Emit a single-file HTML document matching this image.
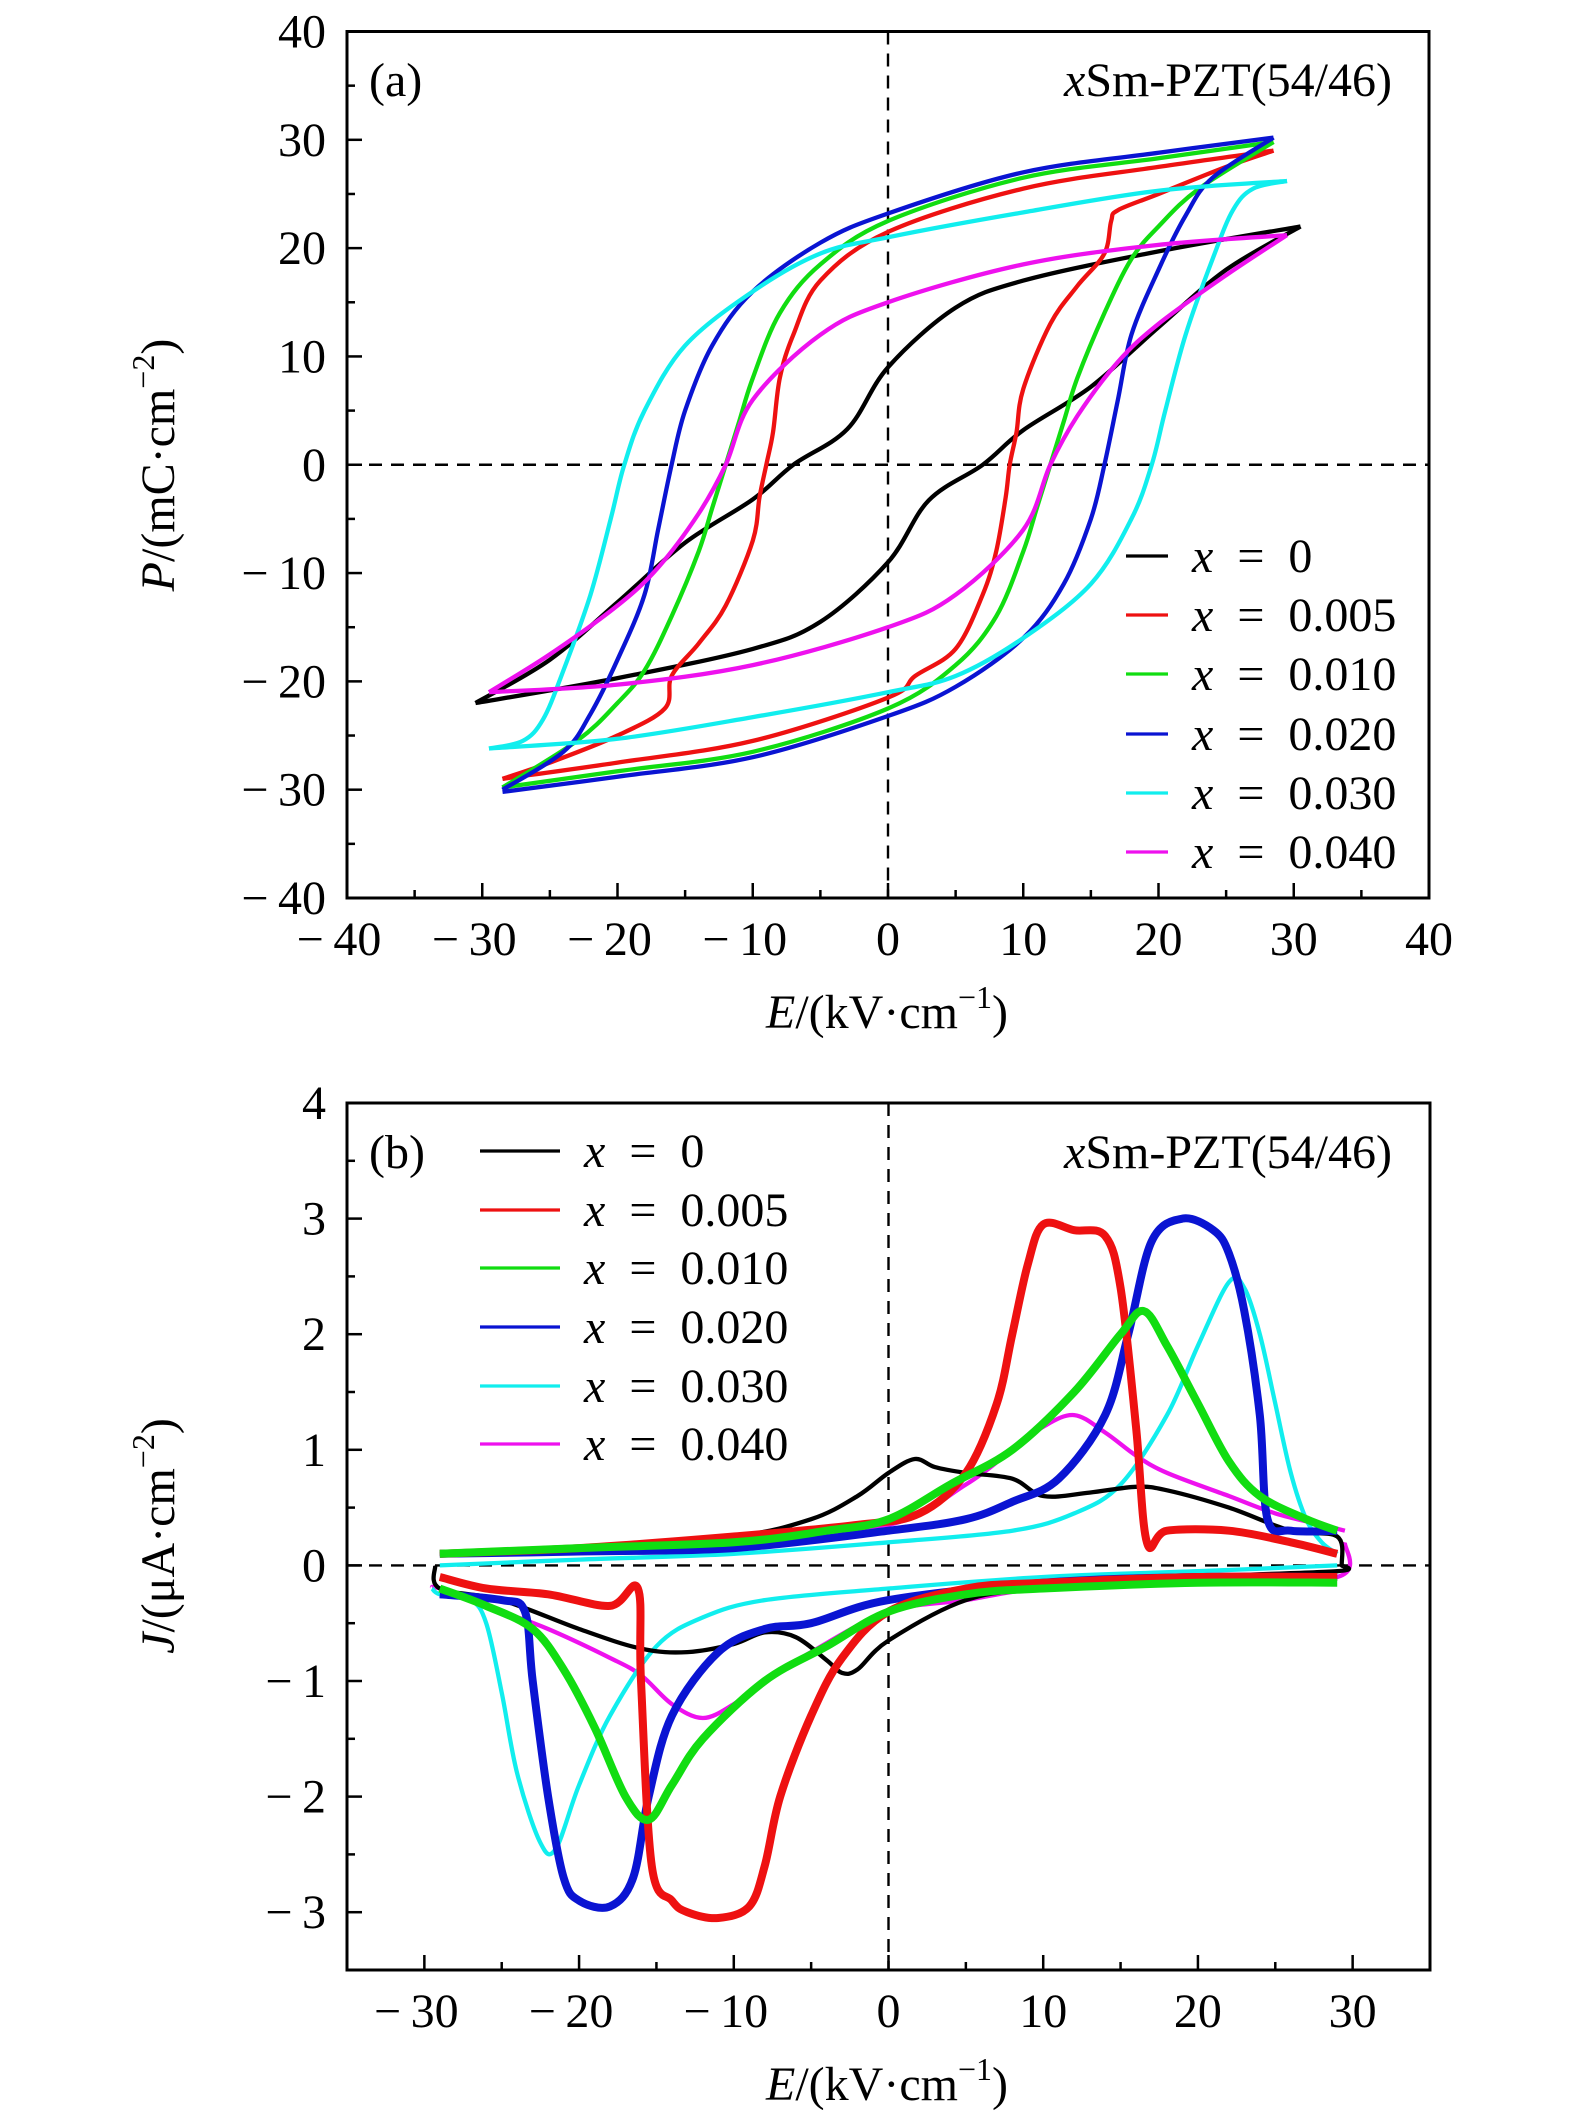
<!DOCTYPE html>
<html><head><meta charset="utf-8"><style>
html,body{margin:0;padding:0;background:#fff;}
svg{display:block;}
text{font-family:"Liberation Serif",serif;fill:#000;}
</style></head><body>
<svg id="fig" width="1575" height="2116" viewBox="0 0 1575 2116" xmlns="http://www.w3.org/2000/svg"></svg>
<script>
// ---------- Panel (a) data: P-E loops ----------
const seriesNames = ["x = 0","x = 0.005","x = 0.010","x = 0.020","x = 0.030","x = 0.040"];
const seriesColors = ["#000000","#ee1111","#11dd11","#0a14d2","#11eeee","#ee11ee"];
const aXTicks = [-40,-30,-20,-10,0,10,20,30,40];
const aYTicks = [-40,-30,-20,-10,0,10,20,30,40];
const eUp0 = [30.5,20,10,5,0,-3,-7,-10,-15,-20,-25,-30.5];
const pUp0 = [22,19.7,17,14.5,9,3.3,0,-3.2,-7.2,-12.7,-18,-22];
const eLo0 = [-30.5,-20,-10,-5,0,3,7,10,15,20,25,30.5];
const pLo0 = [-22,-19.7,-17,-14.5,-9,-3.3,0,3.2,7.2,12.7,18,22];
const eUp1 = [28.5,20,10,0,-5,-7,-8,-8.5,-9,-9.5,-10,-12,-14,-16,-16.5,-20,-25,-28.5];
const pUp1 = [29,27.5,25.5,21.5,17,12,8,3,0,-3,-7,-13,-16.5,-19.5,-22.5,-25,-27.5,-29];
const eLo1 = [-28.5,-20,-10,0,2,5,7,8,8.7,9,9.5,10,12,14,16,16.5,17,20,25,28.5];
const pLo1 = [-29,-27.5,-25.5,-21.5,-19.5,-17,-12,-8,-3,0,3,7,13,16.5,19.5,22.5,23.5,25,27.5,29];
const eUp2 = [28.5,20,10,0,-5,-8,-10,-11,-12,-13,-14,-16,-18,-20,-23,-28.5];
const pUp2 = [29.8,28.3,26.5,22.5,18.5,14,8,4,0,-4,-8,-14,-19,-22,-25.5,-29.8];
const eLo2 = [-28.5,-20,-10,0,5,8,10,11,12,13,14,16,18,20,23,28.5];
const pLo2 = [-29.8,-28.3,-26.5,-22.5,-18.5,-14,-8,-4,0,4,8,14,19,22,25.5,29.8];
const eUp3 = [28.5,20,10,0,-5,-10,-13,-15,-16,-17,-18,-20,-22,-24,-28.5];
const pUp3 = [30.2,28.8,27,23.2,20.5,16,11,5,0,-6,-12,-18,-23,-26.5,-30];
const eLo3 = [-28.5,-20,-10,0,5,10,13,15,16,17,18,20,22,24,28.5];
const pLo3 = [-30.2,-28.8,-27,-23.2,-20.5,-16,-11,-5,0,6,12,18,23,26.5,30.2];
const eUp4 = [29.5,20,10,0,-5,-10,-15,-18,-19.5,-20.5,-22,-24,-25.5,-27,-29.5];
const pUp4 = [26.2,25.3,23.3,21,19.5,16,11,5,0,-5,-12,-19,-23.5,-25.5,-26.2];
const eLo4 = [-29.5,-20,-10,0,5,10,15,18,19.5,20.5,22,24,25.5,27,29.5];
const pLo4 = [-26.2,-25.3,-23.3,-21,-19.5,-16,-11,-5,0,5,12,19,23.5,25.5,26.2];
const eUp5 = [29.5,20,10,0,-5,-10,-12,-14,-17,-20,-25,-29.5];
const pUp5 = [21.2,20.3,18.5,15,12,6,0,-4.5,-9.5,-13,-17.5,-21];
const eLo5 = [-29.5,-20,-10,0,5,10,12,14,17,20,25,29.5];
const pLo5 = [-21,-20.3,-18.5,-15,-12,-6,0,4.5,9.5,13,17.5,21.2];

// ---------- Panel (b) data: J-E curves ----------
const bXTicks = [-30,-20,-10,0,10,20,30];
const bYTicks = [-3,-2,-1,0,1,2,3,4];
const eF0=[-29,-20,-10,-5,-2,0,1.7,3,5,8,10,13,16,18,22,26,29,29.3];
const jF0=[0.1,0.15,0.25,0.4,0.6,0.8,0.92,0.85,0.8,0.75,0.6,0.63,0.68,0.65,0.5,0.3,0.25,0];
const eB0=[29.3,29,20,10,5,0,-2,-3,-4,-6,-8,-10,-13,-16,-20,-25,-29,-29.3];
const jB0=[0,-0.05,-0.1,-0.2,-0.3,-0.65,-0.9,-0.93,-0.82,-0.62,-0.58,-0.68,-0.75,-0.72,-0.55,-0.3,-0.2,0];
const eF1=[-29,-20,-10,-2,2,5,7,8,9,10,12,14,15,16,16.7,18,22,26,29];
const jF1=[0.1,0.15,0.25,0.35,0.45,0.8,1.4,2.0,2.6,2.95,2.9,2.85,2.4,1.2,0.2,0.3,0.3,0.2,0.1];
const eB1=[29,20,10,5,0,-3,-5,-7,-8,-9,-11,-13,-14,-15.3,-16,-16.2,-18,-22,-26,-29];
const jB1=[-0.1,-0.1,-0.15,-0.2,-0.4,-0.8,-1.3,-2.0,-2.6,-2.95,-3.05,-3.0,-2.9,-2.6,-1.0,-0.2,-0.35,-0.25,-0.2,-0.1];
const eF2=[-29,-20,-10,-4,0,4,8,12,15,16.5,18,20,22,24,27,29];
const jF2=[0.1,0.15,0.2,0.3,0.4,0.7,1.0,1.5,2.0,2.2,1.9,1.4,0.9,0.6,0.4,0.3];
const eB2=[29,20,10,5,0,-4,-8,-12,-14,-15.5,-17,-19,-21,-23,-26,-29];
const jB2=[-0.15,-0.15,-0.2,-0.25,-0.4,-0.7,-1.0,-1.5,-1.9,-2.2,-2.0,-1.4,-0.9,-0.55,-0.35,-0.2];
const eF3=[-29,-20,-10,0,5,8,11,14,15.5,17,19,21,22,23,24,24.5,26,29];
const jF3=[0.1,0.12,0.15,0.3,0.4,0.55,0.75,1.3,2.0,2.8,3.0,2.9,2.7,2.2,1.3,0.4,0.3,0.3];
const eB3=[29,20,10,0,-5,-8,-11,-14,-15.5,-16.5,-18,-20,-21,-22,-23,-23.5,-25,-29];
const jB3=[-0.1,-0.1,-0.15,-0.3,-0.5,-0.55,-0.75,-1.3,-2.0,-2.7,-2.95,-2.9,-2.7,-2.0,-1.0,-0.4,-0.3,-0.25];
const eF4=[-29,-20,-10,0,8,12,15,18,20,22,23,24,25,26,27,28,29];
const jF4=[0,0.05,0.1,0.2,0.3,0.45,0.7,1.3,1.9,2.45,2.4,2.0,1.4,0.8,0.4,0.2,0.1];
const eB4=[29,20,10,0,-8,-12,-15,-18,-20,-21.5,-22.5,-24,-25,-26,-27,-29,-29.5];
const jB4=[0,-0.05,-0.1,-0.2,-0.3,-0.45,-0.7,-1.3,-1.9,-2.45,-2.4,-1.8,-1.1,-0.5,-0.3,-0.25,-0.2];
const eF5=[-29,-20,-10,0,5,8,10,12,14,16,18,22,25,28,29.5];
const jF5=[0.1,0.15,0.25,0.35,0.7,1.0,1.2,1.3,1.15,0.95,0.8,0.6,0.45,0.35,0.3];
const eB5=[29.5,29,20,10,5,0,-5,-8,-10,-12,-14,-16,-18,-22,-25,-29,-29.5];
const jB5=[0.2,-0.1,-0.15,-0.2,-0.3,-0.4,-0.75,-1.0,-1.2,-1.32,-1.2,-0.95,-0.8,-0.55,-0.4,-0.2,-0.2];

const NS="http://www.w3.org/2000/svg";
const svg=document.getElementById('fig');
const FS=48;
function mk(tag,attrs,parent){const el=document.createElementNS(NS,tag);for(const k in attrs)el.setAttribute(k,attrs[k]);(parent||svg).appendChild(el);return el;}
function smoothPath(pts){
  let d="M"+pts[0][0].toFixed(1)+","+pts[0][1].toFixed(1);
  for(let i=0;i<pts.length-1;i++){
    const p0=pts[Math.max(0,i-1)],p1=pts[i],p2=pts[i+1],p3=pts[Math.min(pts.length-1,i+2)];
    const c1=[p1[0]+(p2[0]-p0[0])/6,p1[1]+(p2[1]-p0[1])/6];
    const c2=[p2[0]-(p3[0]-p1[0])/6,p2[1]-(p3[1]-p1[1])/6];
    d+=" C"+c1[0].toFixed(1)+","+c1[1].toFixed(1)+" "+c2[0].toFixed(1)+","+c2[1].toFixed(1)+" "+p2[0].toFixed(1)+","+p2[1].toFixed(1);
  }
  return d;
}
function fmt(v){return v<0?"\u2212\u2009"+Math.abs(v):String(v);}

const A={l:347,r:1429,t:31.5,b:898,x0:-40,x1:40,y0:-40,y1:40};
const B={l:347,r:1430,t:1103,b:1970,x0:-35,x1:35,y0:-3.5,y1:4};
function sx(P,v){return P.l+(v-P.x0)/(P.x1-P.x0)*(P.r-P.l);}
function sy(P,v){return P.b-(v-P.y0)/(P.y1-P.y0)*(P.b-P.t);}

function drawAxes(P,xt,yt,xMinorStep,yMinorStep,name){
  const g=mk('g',{});
  
  
  const zx=mk('line',{x1:sx(P,0),x2:sx(P,0),y1:P.t,y2:P.b,stroke:'#000','stroke-width':2.4,'stroke-dasharray':'13,9'},g);
  
  
  const zy=mk('line',{x1:P.l,x2:P.r,y1:sy(P,0),y2:sy(P,0),stroke:'#000','stroke-width':2.4,'stroke-dasharray':'13,9'},g);
  
  
  for(let v=Math.ceil(P.x0/xMinorStep)*xMinorStep;v<=P.x1+1e-9;v+=xMinorStep){
    const major=xt.some(t=>Math.abs(t-v)<1e-9);const L=major?15:8;const x=sx(P,v);
    mk('line',{x1:x,x2:x,y1:P.b,y2:P.b-L,stroke:'#000','stroke-width':2.5},g);
  }
  for(let v=Math.ceil(P.y0/yMinorStep)*yMinorStep;v<=P.y1+1e-9;v+=yMinorStep){
    const major=yt.some(t=>Math.abs(t-v)<1e-9);const L=major?15:8;const y=sy(P,v);
    mk('line',{x1:P.l,x2:P.l+L,y1:y,y2:y,stroke:'#000','stroke-width':2.5},g);
  }
  xt.forEach(v=>{const t=mk('text',{x:sx(P,v)-(v<0?8:0),y:P.b+57,'font-size':FS,'text-anchor':'middle'},g);t.textContent=fmt(v);
    
    });
  yt.forEach(v=>{const t=mk('text',{x:326,y:sy(P,v)+16,'font-size':FS,'text-anchor':'end'},g);t.textContent=fmt(v);
    
    });
}
function frame(P,name){
  const f=mk('rect',{x:P.l,y:P.t,width:P.r-P.l,height:P.b-P.t,fill:'none',stroke:'#000','stroke-width':3});
  
  
}

drawAxes(A,aXTicks,aYTicks,5,5,'panel-a');
const aLoops=[[eUp0,pUp0,eLo0,pLo0],[eUp1,pUp1,eLo1,pLo1],[eUp2,pUp2,eLo2,pLo2],[eUp3,pUp3,eLo3,pLo3],[eUp4,pUp4,eLo4,pLo4],[eUp5,pUp5,eLo5,pLo5]];
aLoops.forEach((s,i)=>{
  const up=s[0].map((e,k)=>[sx(A,e),sy(A,s[1][k])]);
  const lo=s[2].map((e,k)=>[sx(A,e),sy(A,s[3][k])]);
  const p1=mk('path',{d:smoothPath(up),fill:'none',stroke:seriesColors[i],'stroke-width':4.3,'stroke-linejoin':'round'});
  
  
  const p2=mk('path',{d:smoothPath(lo),fill:'none',stroke:seriesColors[i],'stroke-width':4.3,'stroke-linejoin':'round'});
  
  
});
frame(A,'panel-a');

drawAxes(B,bXTicks,bYTicks,5,0.5,'panel-b');
const bCurves=[[eF0,jF0,eB0,jB0],[eF1,jF1,eB1,jB1],[eF2,jF2,eB2,jB2],[eF3,jF3,eB3,jB3],[eF4,jF4,eB4,jB4],[eF5,jF5,eB5,jB5]];
const drawOrder=[5,4,0,3,1,2];
const noisy=[false,true,true,true,false,false];
drawOrder.forEach(i=>{
  const s=bCurves[i];
  const f=s[0].map((e,k)=>[sx(B,e),sy(B,s[1][k])]);
  const b=s[2].map((e,k)=>[sx(B,e),sy(B,s[3][k])]);
  const w=noisy[i]?8:4.3;
  const p1=mk('path',{d:smoothPath(f),fill:'none',stroke:seriesColors[i],'stroke-width':w,'stroke-linejoin':'round'});
  
  
  const p2=mk('path',{d:smoothPath(b),fill:'none',stroke:seriesColors[i],'stroke-width':w,'stroke-linejoin':'round'});
  
  
});
frame(B,'panel-b');

function legend(lx1,lx2,tx,ys,name){
  seriesNames.forEach((n,i)=>{
    const g=mk('g',{});
    
    
    mk('line',{x1:lx1,x2:lx2,y1:ys[i],y2:ys[i],stroke:seriesColors[i],'stroke-width':3.2},g);
    const t=mk('text',{x:tx,y:ys[i]+16,'font-size':FS},g);
    const it=mk('tspan',{'font-style':'italic'},t);it.textContent='x';
    const r=mk('tspan',{},t);r.textContent='\u2002=\u2002'+n.slice(4);
  });
}
legend(1126,1168,1192,[556,615,674,734,793,852],'legend-a');
legend(480,560,584,[1151,1210,1268,1327,1386,1444],'legend-b');
</script>
<div style="position:absolute;left:0;top:0;width:1575px;height:2116px;pointer-events:none;">
<svg width="1575" height="2116" style="position:absolute;left:0;top:0" xmlns="http://www.w3.org/2000/svg">
 <text x="369" y="96" font-size="48">(a)</text>
 <text x="1392" y="96" font-size="48" text-anchor="end"><tspan font-style="italic">x</tspan>Sm-PZT(54/46)</text>
 <text x="887" y="1028" font-size="48" text-anchor="middle"><tspan font-style="italic">E</tspan>/(kV·cm<tspan dy="-20" font-size="32">−1</tspan><tspan dy="20">)</tspan></text>
 <text transform="translate(174,465) rotate(-90)" font-size="48" text-anchor="middle"><tspan font-style="italic">P</tspan>/(mC·cm<tspan dy="-20" font-size="32">−2</tspan><tspan dy="20">)</tspan></text>
 <text x="369" y="1168" font-size="48">(b)</text>
 <text x="1392" y="1168" font-size="48" text-anchor="end"><tspan font-style="italic">x</tspan>Sm-PZT(54/46)</text>
 <text x="887" y="2100" font-size="48" text-anchor="middle"><tspan font-style="italic">E</tspan>/(kV·cm<tspan dy="-20" font-size="32">−1</tspan><tspan dy="20">)</tspan></text>
 <text transform="translate(174,1536) rotate(-90)" font-size="48" text-anchor="middle"><tspan font-style="italic">J</tspan>/(μA·cm<tspan dy="-20" font-size="32">−2</tspan><tspan dy="20">)</tspan></text>
</svg>
</div>
</body></html>
